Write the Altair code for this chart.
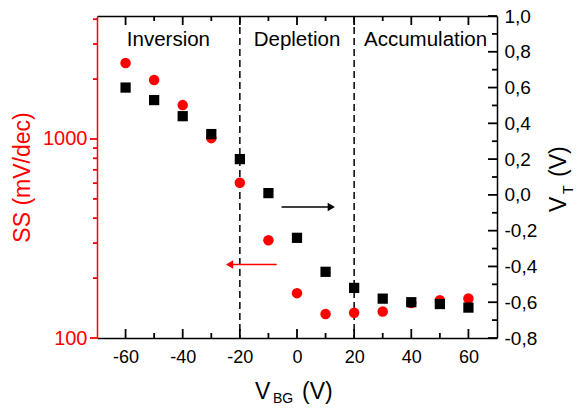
import altair as alt
import pandas as pd

# ---- data ----
vbg = [-60, -50, -40, -30, -20, -10, 0, 10, 20, 30, 40, 50, 60]
ss = [2410, 1980, 1480, 1010, 603, 310, 168, 132, 134, 136, 150, 155, 158]
vt = [0.60, 0.53, 0.44, 0.34, 0.20, 0.01, -0.24, -0.43, -0.52, -0.58, -0.60, -0.61, -0.63]

region_names = ["Inversion", "Depletion", "Accumulation"]
region_centers = [-45, 0, 45]
boundaries = [-20, 20]

# arrows (annotation, in data units)
vt_arrow_x = [-5.4, 12.0]
vt_arrow_y = [-0.068, -0.068]
vt_head_x = [12.0]
ss_arrow_x = [-7.1, -23.6]
ss_arrow_y = [234, 234]
ss_head_x = [-23.6]

x_major = [-60, -40, -20, 0, 20, 40, 60]
x_minor = [-50, -30, -10, 10, 30, 50]
ss_major = [100, 1000]
ss_minor = [200, 300, 400, 500, 600, 700, 800, 900, 2000, 3000, 4000]
vt_major = [-0.8, -0.6, -0.4, -0.2, 0.0, 0.2, 0.4, 0.6, 0.8, 1.0]
vt_minor = [-0.7, -0.5, -0.3, -0.1, 0.1, 0.3, 0.5, 0.7, 0.9]

FONT = "Liberation Sans"
RED = "#ff0000"
W, H = 400, 322

xscale = alt.Scale(domain=[-70, 70], nice=False, zero=False)
ss_scale = alt.Scale(type="log", domain=[100, 4150], nice=False)
vt_scale = alt.Scale(domain=[-0.8, 1.0], nice=False, zero=False)

bottom_axis = alt.Axis(
    orient="bottom", values=x_major, title=None, grid=False, ticks=False,
    labelExpr="'' + datum.value",
    labelPadding=10, labelFont=FONT, labelFontSize=18, labelColor="black",
    domainColor="black", domainWidth=1.5,
)
top_axis = alt.Axis(
    orient="top", values=x_major, title=None, grid=False, labels=False, ticks=False,
    domainColor="black", domainWidth=1.5,
)
left_axis = alt.Axis(
    orient="left", values=ss_major, grid=False, ticks=False,
    title="SS (mV/dec)", titleFont=FONT, titleFontSize=23, titleFontWeight="normal",
    titleColor=RED, titlePadding=8,
    labelExpr="'' + datum.value",
    labelPadding=10, labelFont=FONT, labelFontSize=20, labelColor=RED,
    domainColor=RED, domainWidth=1.5,
)
right_axis = alt.Axis(
    orient="right", values=vt_major, grid=False, title=None, ticks=False,
    labelExpr="replace(replace(format(datum.value, '.1f'), '.', ','), '\u2212', '-')",
    labelPadding=7, labelFont=FONT, labelFontSize=19, labelColor="black",
    domainColor="black", domainWidth=1.5,
)


def X(f, axis=None):
    return alt.X(f"{f}:Q", scale=xscale, axis=axis)


def YS(f, axis=None):
    return alt.Y(f"{f}:Q", scale=ss_scale, axis=axis)


def YV(f, axis=None):
    return alt.Y(f"{f}:Q", scale=vt_scale, axis=axis)


df = pd.DataFrame({"vbg": vbg, "ss": ss, "vt": vt})


# frame ticks drawn as short segments through the chart's own scales
def xticks(vals, y0, y1):
    return alt.Chart(pd.DataFrame({"tx": vals})).mark_rule(color="black", strokeWidth=1.8).encode(
        x=X("tx"), y=alt.value(y0), y2=alt.value(y1))


def yticks(vals, x0, x1, enc, color):
    return alt.Chart(pd.DataFrame({"ty": vals})).mark_rule(color=color, strokeWidth=1.8).encode(
        y=enc("ty"), x=alt.value(x0), x2=alt.value(x1))


ticks = [
    xticks(x_major, H, H - 9), xticks(x_minor, H, H - 5),
    xticks(x_major, 0, 9), xticks(x_minor, 0, 5),
    yticks(ss_major, 0, -7, YS, RED), yticks(ss_minor, 0, -4, YS, RED),
    yticks(vt_major, W, W - 9, YV, "black"), yticks(vt_minor, W, W - 5, YV, "black"),
]

red_pts = alt.Chart(df).mark_circle(color=RED, size=110, opacity=1).encode(
    x=X("vbg", bottom_axis), y=YS("ss", left_axis))
red_line = alt.Chart(pd.DataFrame({"ax": ss_arrow_x, "ay": ss_arrow_y})).mark_line(
    color=RED, strokeWidth=1.6).encode(x=X("ax"), y=YS("ay"))
red_head = alt.Chart(pd.DataFrame({"hx": ss_head_x, "hy": ss_arrow_y[:1]})).mark_point(
    shape="triangle-left", filled=True, color=RED, size=70, opacity=1).encode(x=X("hx"), y=YS("hy"))

blk_pts = alt.Chart(df).mark_square(color="black", size=105, opacity=1).encode(
    x=X("vbg", top_axis), y=YV("vt", right_axis))
blk_line = alt.Chart(pd.DataFrame({"ax": vt_arrow_x, "ay": vt_arrow_y})).mark_line(
    color="black", strokeWidth=1.6).encode(x=X("ax"), y=YV("ay"))
blk_head = alt.Chart(pd.DataFrame({"hx": vt_head_x, "hy": vt_arrow_y[:1]})).mark_point(
    shape="triangle-right", filled=True, color="black", size=70, opacity=1).encode(x=X("hx"), y=YV("hy"))

rules = alt.Chart(pd.DataFrame({"b": boundaries})).mark_rule(
    color="black", strokeDash=[7, 4], strokeWidth=1.5).encode(x=X("b"))
regions = alt.Chart(pd.DataFrame({"name": region_names, "cx": region_centers})).mark_text(
    font=FONT, fontSize=20.5, color="black", baseline="alphabetic", align="center").encode(
    x=X("cx"), y=alt.value(30), text="name:N")


def piece(txt, x, y, size, angle=0):
    return alt.Chart(pd.DataFrame({"t": [txt]})).mark_text(
        font=FONT, fontSize=size, color="black", align="left", baseline="alphabetic", angle=angle
    ).encode(x=alt.value(x), y=alt.value(y), text="t:N")


# x-axis title: V_BG (V)
xt_v = piece("V", 158, 383, 23)
xt_bg = piece("BG", 176, 387, 14)
xt_u = piece("(V)", 205, 383, 23)
# right axis title: V_T (V), reading bottom to top
yt_v = piece("V", 469, 196, 23, 270)
yt_t = piece("T", 476, 178, 14, 270)
yt_u = piece("(V)", 469, 161, 23, 270)

chart = alt.layer(
    *ticks, rules, red_pts, red_line, red_head, blk_pts, blk_line, blk_head, regions,
    xt_v, xt_bg, xt_u, yt_v, yt_t, yt_u,
).resolve_scale(
    y="independent"
).resolve_axis(
    x="independent", y="independent"
).properties(
    width=W, height=H,
    autosize=alt.AutoSizeParams(type="none"),
    padding={"left": 97, "top": 16, "right": 84, "bottom": 71},
    background="white",
).configure_view(stroke=None)

chart.save("out.html", embed_options={"renderer": "svg", "actions": False})
